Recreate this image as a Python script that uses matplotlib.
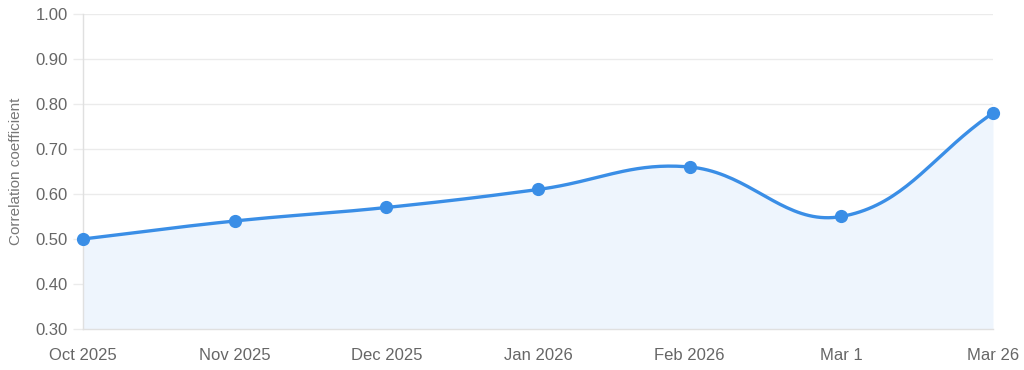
import numpy as np
import matplotlib
matplotlib.use("Agg")
import matplotlib.pyplot as plt

# dane
labels = ["Oct 2025", "Nov 2025", "Dec 2025", "Jan 2026", "Feb 2026", "Mar 1", "Mar 26"]
values = [0.50, 0.54, 0.57, 0.61, 0.66, 0.55, 0.78]
y_ticks = [0.30, 0.40, 0.50, 0.60, 0.70, 0.80, 0.90, 1.00]

LINE = "#3a8ee6"
FILL = "#eef5fd"
GRID = "#ebebeb"
TEXT = "#666666"

plt.rcParams["font.family"] = ["Liberation Sans", "DejaVu Sans"]


def spline_px(px, py, tension=0.4, steps=40):
    # krzywa jak w Chart.js (splineCurve), liczona w pikselach
    n = len(px)
    cp_prev = np.zeros((n, 2))
    cp_next = np.zeros((n, 2))
    for i in range(n):
        p0 = np.array([px[max(i - 1, 0)], py[max(i - 1, 0)]])
        p1 = np.array([px[i], py[i]])
        p2 = np.array([px[min(i + 1, n - 1)], py[min(i + 1, n - 1)]])
        d01 = np.hypot(*(p1 - p0))
        d12 = np.hypot(*(p2 - p1))
        tot = d01 + d12
        s01 = d01 / tot if tot else 0
        s12 = d12 / tot if tot else 0
        cp_prev[i] = p1 - tension * s01 * (p2 - p0)
        cp_next[i] = p1 + tension * s12 * (p2 - p0)
    out = []
    t = np.linspace(0, 1, steps)[:, None]
    for i in range(n - 1):
        a = np.array([px[i], py[i]])
        b = cp_next[i]
        c = cp_prev[i + 1]
        d = np.array([px[i + 1], py[i + 1]])
        seg = (1 - t) ** 3 * a + 3 * (1 - t) ** 2 * t * b + 3 * (1 - t) * t ** 2 * c + t ** 3 * d
        out.append(seg if i == 0 else seg[1:])
    return np.vstack(out)


fig = plt.figure(figsize=(10.24, 3.7), dpi=100)
ax = fig.add_axes([0.0811, 0.1108, 0.8886, 0.8514])

x = np.arange(len(labels))
ax.set_xlim(x[0], x[-1])
ax.set_ylim(0.30, 1.00)

# gładka linia
pts = ax.transData.transform(np.column_stack([x, values]))
curve = spline_px(pts[:, 0], pts[:, 1])
cx, cy = ax.transData.inverted().transform(curve).T

ax.fill_between(cx, cy, 0.30, color=FILL, zorder=1, linewidth=0)
ax.plot(cx, cy, color=LINE, linewidth=2.4, zorder=3, solid_capstyle="round", clip_on=False)
ax.plot(x, values, "o", color=LINE, markersize=8.5, zorder=4, clip_on=False)

ax.set_yticks(y_ticks)
ax.set_yticklabels([f"{v:.2f}" for v in y_ticks])
ax.set_xticks(x)
ax.set_xticklabels(labels)

ax.grid(axis="y", color=GRID, linewidth=1, zorder=0)
ax.set_axisbelow(True)
for side in ["top", "right"]:
    ax.spines[side].set_visible(False)
for side in ["left", "bottom"]:
    ax.spines[side].set_color("#e0e0e0")
    ax.spines[side].set_linewidth(1)

ax.tick_params(axis="y", length=7, width=1, color=GRID, pad=4, labelsize=12, labelcolor=TEXT)
ax.tick_params(axis="x", length=0, pad=14, labelsize=12, labelcolor=TEXT)

ax.set_ylabel("Correlation coefficient", fontsize=11, color="#777777", labelpad=9)

fig.savefig("out.png", dpi=100)
